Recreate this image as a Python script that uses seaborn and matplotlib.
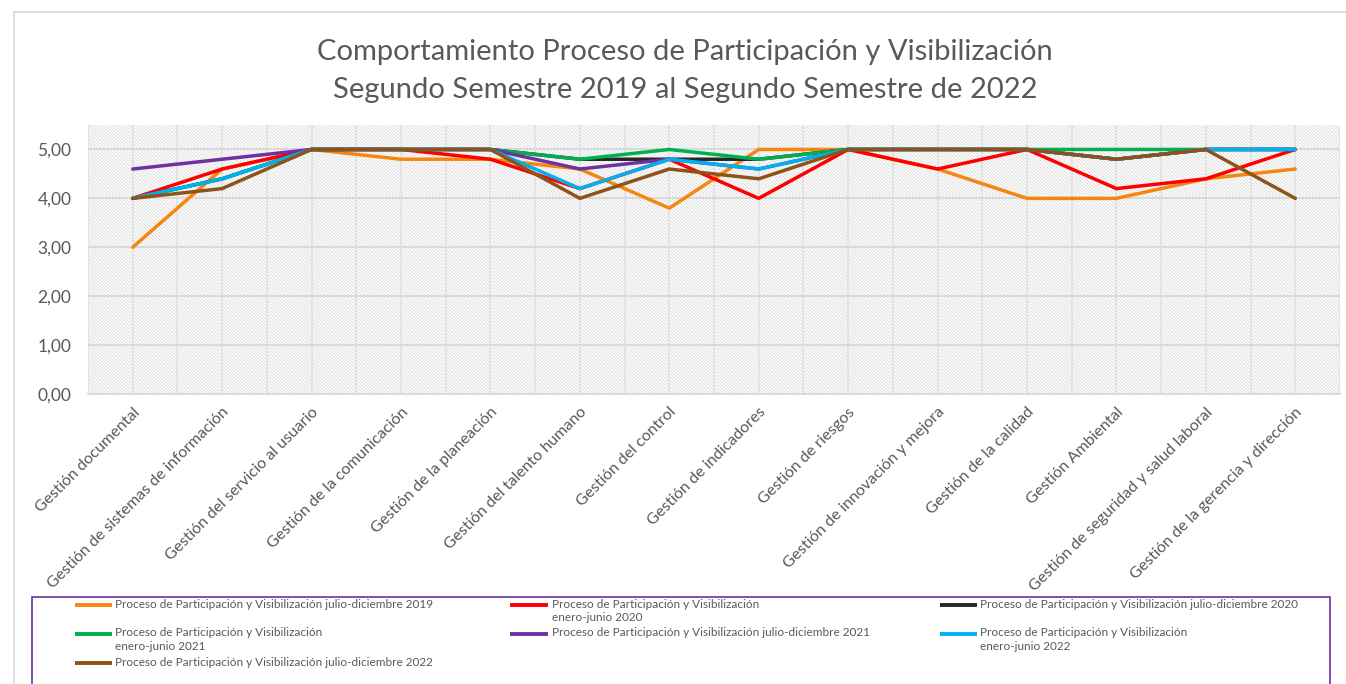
import numpy as np
import pandas as pd
import matplotlib
matplotlib.use("Agg")
import matplotlib.pyplot as plt
from matplotlib.lines import Line2D
from matplotlib.patches import Rectangle
from matplotlib.ticker import FixedLocator, FuncFormatter
import seaborn as sns

# ---- data -------------------------------------------------------------
categorias = [
    "Gestión documental",
    "Gestión de sistemas de información",
    "Gestión del servicio al usuario",
    "Gestión de la comunicación",
    "Gestión de la planeación",
    "Gestión del talento humano",
    "Gestión del control",
    "Gestión de indicadores",
    "Gestión de riesgos",
    "Gestión de innovación y mejora",
    "Gestión de la calidad",
    "Gestión Ambiental",
    "Gestión de seguridad y salud laboral",
    "Gestión de la gerencia y dirección",
]

series = [
    "Proceso de Participación y Visibilización julio-diciembre 2019",
    "Proceso de Participación y Visibilización\nenero-junio 2020",
    "Proceso de Participación y Visibilización julio-diciembre 2020",
    "Proceso de Participación y Visibilización\nenero-junio 2021",
    "Proceso de Participación y Visibilización julio-diciembre 2021",
    "Proceso de Participación y Visibilización\nenero-junio 2022",
    "Proceso de Participación y Visibilización julio-diciembre 2022",
]

jul_dic_2019 = [3.0, 4.6, 5.0, 4.8, 4.8, 4.6, 3.8, 5.0, 5.0, 4.6, 4.0, 4.0, 4.4, 4.6]
ene_jun_2020 = [4.0, 4.6, 5.0, 5.0, 4.8, 4.2, 4.8, 4.0, 5.0, 4.6, 5.0, 4.2, 4.4, 5.0]
jul_dic_2020 = [4.0, 4.4, 5.0, 5.0, 5.0, 4.8, 4.8, 4.8, 5.0, 5.0, 5.0, 4.8, 5.0, 5.0]
ene_jun_2021 = [4.0, 4.4, 5.0, 5.0, 5.0, 4.8, 5.0, 4.8, 5.0, 5.0, 5.0, 5.0, 5.0, 5.0]
jul_dic_2021 = [4.6, 4.8, 5.0, 5.0, 5.0, 4.6, 4.8, 4.6, 5.0, 5.0, 5.0, 4.8, 5.0, 5.0]
ene_jun_2022 = [4.0, 4.4, 5.0, 5.0, 5.0, 4.2, 4.8, 4.6, 5.0, 5.0, 5.0, 4.8, 5.0, 5.0]
jul_dic_2022 = [4.0, 4.2, 5.0, 5.0, 5.0, 4.0, 4.6, 4.4, 5.0, 5.0, 5.0, 4.8, 5.0, 4.0]

valores = [jul_dic_2019, ene_jun_2020, jul_dic_2020, ene_jun_2021,
           jul_dic_2021, ene_jun_2022, jul_dic_2022]

colores = ["#F5860F", "#FF0000", "#262626", "#00B050",
           "#7030A0", "#00B0F0", "#8E5318"]

titulo = ("Comportamiento Proceso de Participación y Visibilización\n"
          "Segundo Semestre 2019 al Segundo Semestre de 2022")

df = pd.DataFrame(
    [(c, s, v) for s, vals in zip(series, valores) for c, v in zip(categorias, vals)],
    columns=["Proceso", "Serie", "Calificación"],
)

# ---- style ------------------------------------------------------------
sns.set_theme(style="white")
plt.rcParams["font.family"] = ["Lato", "DejaVu Sans"]
plt.rcParams["hatch.linewidth"] = 0.6

W, H = 1346, 684
fig = plt.figure(figsize=(W / 100, H / 100), dpi=100)
fig.patch.set_facecolor("white")


def fx(px):
    return px / W


def fy(py):
    return 1 - py / H


# outer chart frame
fig.add_artist(Rectangle((fx(14), -0.2), 1.2, fy(12) + 0.2,
                         transform=fig.transFigure, fill=False,
                         edgecolor="#D9D9D9", lw=1.2))

ax = fig.add_axes([fx(88), fy(394), fx(1340) - fx(88), fy(125) - fy(394)])
ax.set_facecolor("white")

# hatched plot area
ax.add_patch(Rectangle((0, 0), 1, 1, transform=ax.transAxes,
                       facecolor="white", edgecolor="#D8D8D8",
                       hatch="\\" * 10, lw=0, zorder=0))

sns.lineplot(data=df, x="Proceso", y="Calificación", hue="Serie",
             hue_order=series, palette=colores, sort=False,
             lw=2.5, legend=False, ax=ax, zorder=3)

ax.set_ylim(0, 5.5)
ax.set_xlim(-0.5, len(categorias) - 0.5)
ax.set_yticks(np.arange(0, 6, 1))
ax.yaxis.set_major_formatter(FuncFormatter(lambda v, _: f"{v:.2f}".replace(".", ",")))
ax.set_xticks(range(len(categorias)))
ax.set_xticklabels(categorias, rotation=45, ha="right", rotation_mode="anchor",
                   fontsize=11.5, color="#595959")
ax.xaxis.set_minor_locator(FixedLocator(np.arange(-0.5, len(categorias), 1)))
ax.tick_params(axis="y", labelsize=12.5, labelcolor="#595959", length=0, pad=12)
ax.tick_params(axis="x", which="both", length=0, pad=8)
ax.set_axisbelow(True)
ax.yaxis.grid(True, color="#D9D9D9", lw=1.4)
ax.xaxis.grid(True, which="both", color="#E2E2E2", lw=1.3)
ax.set_xlabel("")
ax.set_ylabel("")
for side in ("top", "right", "left"):
    ax.spines[side].set_visible(False)
ax.spines["bottom"].set_color("#D9D9D9")
ax.spines["bottom"].set_linewidth(1.3)

fig.text(fx(685), fy(71), titulo, ha="center", va="center",
         fontsize=21, color="#595959", linespacing=1.55)

# ---- legend box --------------------------------------------------------
fig.add_artist(Rectangle((fx(32), -0.2), fx(1330) - fx(32), fy(597) + 0.2,
                         transform=fig.transFigure, fill=False,
                         edgecolor="#7030A0", lw=1.2))

col_handle = [(75, 112), (510, 548), (940, 977)]
col_text = [115, 552, 980]
row_y = [605, 634, 663]
for i, (nombre, color) in enumerate(zip(series, colores)):
    r, c = divmod(i, 3)
    y = row_y[r]
    x0, x1 = col_handle[c]
    fig.add_artist(Line2D([fx(x0), fx(x1)], [fy(y), fy(y)],
                          transform=fig.transFigure, color=color, lw=2.8,
                          solid_capstyle="butt"))
    fig.text(fx(col_text[c]), fy(y - 6.5), nombre, ha="left", va="top",
             fontsize=8.5, color="#595959", linespacing=1.3)

fig.savefig("out.png", dpi=100, facecolor="white")
